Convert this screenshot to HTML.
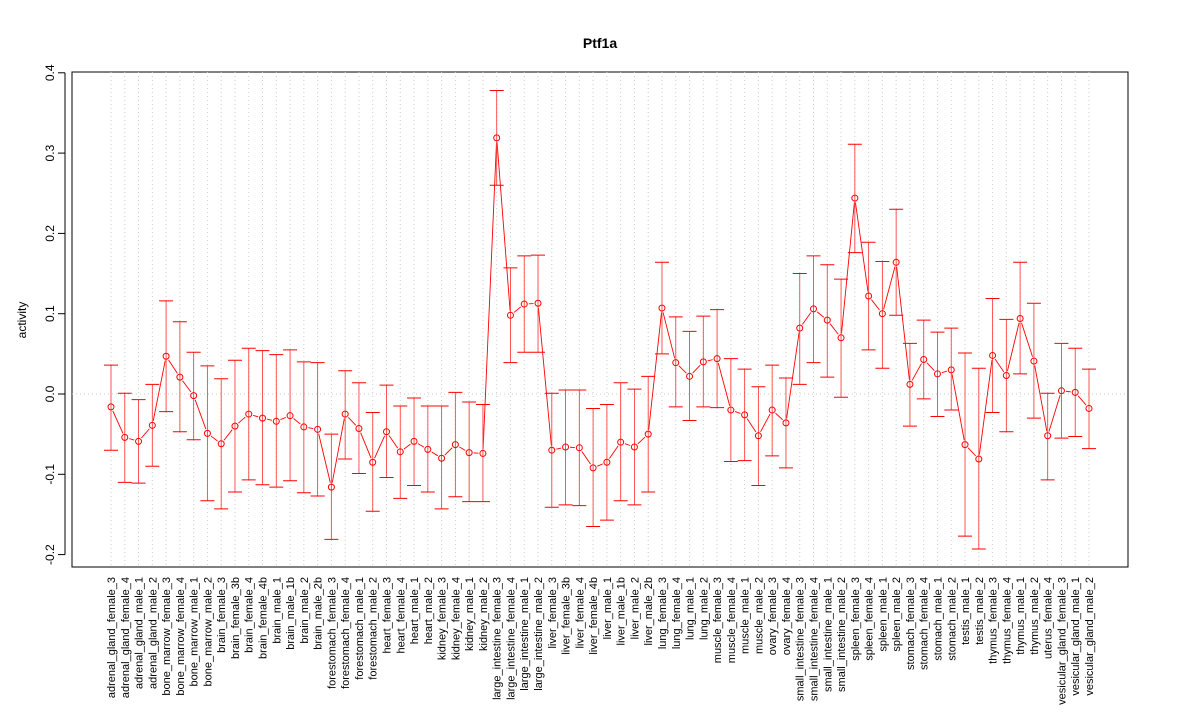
<!DOCTYPE html>
<html><head><meta charset="utf-8"><style>
html,body{margin:0;padding:0;background:#fff;}
svg{display:block;font-family:"Liberation Sans",sans-serif;}
</style></head><body>
<svg id="chart" width="1200" height="720">
<text x="600" y="48" text-anchor="middle" font-size="14" font-weight="bold">Ptf1a</text>
<text transform="translate(26,320) rotate(-90)" text-anchor="middle" font-size="12">activity</text>
<rect x="72" y="72" width="1056" height="495" fill="none" stroke="#000"/>
<g id="grid"></g><g id="yaxis"></g><g id="xaxis"></g><g id="series"></g>
</svg>
<script>
const categories=["adrenal_gland_female_3","adrenal_gland_female_4","adrenal_gland_male_1","adrenal_gland_male_2","bone_marrow_female_3","bone_marrow_female_4","bone_marrow_male_1","bone_marrow_male_2","brain_female_3","brain_female_3b","brain_female_4","brain_female_4b","brain_male_1","brain_male_1b","brain_male_2","brain_male_2b","forestomach_female_3","forestomach_female_4","forestomach_male_1","forestomach_male_2","heart_female_3","heart_female_4","heart_male_1","heart_male_2","kidney_female_3","kidney_female_4","kidney_male_1","kidney_male_2","large_intestine_female_3","large_intestine_female_4","large_intestine_male_1","large_intestine_male_2","liver_female_3","liver_female_3b","liver_female_4","liver_female_4b","liver_male_1","liver_male_1b","liver_male_2","liver_male_2b","lung_female_3","lung_female_4","lung_male_1","lung_male_2","muscle_female_3","muscle_female_4","muscle_male_1","muscle_male_2","ovary_female_3","ovary_female_4","small_intestine_female_3","small_intestine_female_4","small_intestine_male_1","small_intestine_male_2","spleen_female_3","spleen_female_4","spleen_male_1","spleen_male_2","stomach_female_3","stomach_female_4","stomach_male_1","stomach_male_2","testis_male_1","testis_male_2","thymus_female_3","thymus_female_4","thymus_male_1","thymus_male_2","uterus_female_4","vesicular_gland_female_3","vesicular_gland_male_1","vesicular_gland_male_2"];
const values=[-0.016,-0.054,-0.059,-0.039,0.047,0.021,-0.002,-0.049,-0.062,-0.040,-0.025,-0.030,-0.034,-0.027,-0.041,-0.044,-0.116,-0.025,-0.043,-0.085,-0.047,-0.072,-0.059,-0.069,-0.080,-0.063,-0.073,-0.074,0.319,0.098,0.112,0.113,-0.070,-0.066,-0.067,-0.092,-0.085,-0.060,-0.066,-0.050,0.107,0.039,0.022,0.040,0.044,-0.020,-0.026,-0.052,-0.020,-0.036,0.082,0.106,0.092,0.070,0.244,0.122,0.100,0.164,0.012,0.043,0.025,0.030,-0.063,-0.081,0.048,0.023,0.094,0.041,-0.052,0.004,0.002,-0.018];
const upper=[0.036,0.001,-0.007,0.012,0.116,0.090,0.052,0.035,0.019,0.042,0.057,0.054,0.049,0.055,0.040,0.039,-0.050,0.029,0.014,-0.023,0.011,-0.015,-0.005,-0.015,-0.015,0.002,-0.010,-0.013,0.378,0.157,0.172,0.173,0.001,0.005,0.005,-0.018,-0.013,0.014,0.006,0.022,0.164,0.096,0.078,0.097,0.105,0.044,0.031,0.009,0.036,0.020,0.150,0.172,0.161,0.143,0.311,0.189,0.165,0.230,0.063,0.092,0.077,0.082,0.051,0.032,0.119,0.093,0.164,0.113,0.001,0.063,0.057,0.031];
const lower=[-0.070,-0.110,-0.111,-0.090,-0.022,-0.047,-0.057,-0.133,-0.143,-0.122,-0.107,-0.113,-0.116,-0.108,-0.123,-0.127,-0.181,-0.081,-0.099,-0.146,-0.104,-0.130,-0.114,-0.122,-0.143,-0.128,-0.134,-0.134,0.260,0.039,0.052,0.052,-0.141,-0.138,-0.139,-0.165,-0.157,-0.133,-0.138,-0.122,0.050,-0.016,-0.033,-0.016,-0.017,-0.084,-0.083,-0.114,-0.077,-0.092,0.012,0.039,0.021,-0.004,0.176,0.055,0.032,0.098,-0.040,-0.006,-0.028,-0.020,-0.177,-0.193,-0.023,-0.047,0.025,-0.030,-0.107,-0.055,-0.053,-0.068];
const yTicks=[-0.2,-0.1,0.0,0.1,0.2,0.3,0.4];
const yTickLabels=["-0.2","-0.1","0.0","0.1","0.2","0.3","0.4"];

const NS="http://www.w3.org/2000/svg";
function X(i){return 111+i*(1089-111)/(categories.length-1);}
function Y(v){return 394-v*803;}
function mk(tag,attrs,parent){const e=document.createElementNS(NS,tag);for(const k in attrs)e.setAttribute(k,attrs[k]);document.getElementById(parent).appendChild(e);return e;}

let g=mk('line',{x1:72,x2:1128,y1:Y(0),y2:Y(0),stroke:'#ccc','stroke-dasharray':'1,3'},'grid');


categories.forEach((c,i)=>{
  const l=mk('line',{x1:X(i),x2:X(i),y1:72,y2:567,stroke:'#ccc','stroke-dasharray':'1,3'},'grid');
  
  
  const t=mk('text',{transform:`translate(${X(i)+4},577) rotate(-90)`,'text-anchor':'end','font-size':'11'},'xaxis');
  t.textContent=c;
  
  
});
const ax=mk('line',{x1:65,x2:65,y1:Y(-0.2),y2:Y(0.4),stroke:'#000'},'yaxis');


yTicks.forEach((v,k)=>{
  const tk=mk('line',{x1:58,x2:65,y1:Y(v),y2:Y(v),stroke:'#000'},'yaxis');
  
  
  const t=mk('text',{transform:`translate(54,${Y(v)}) rotate(-90)`,'text-anchor':'middle','font-size':'12'},'yaxis');
  t.textContent=yTickLabels[k];
  
  
});
for(let i=0;i<values.length-1;i++){
  const x1=X(i),y1=Y(values[i]),x2=X(i+1),y2=Y(values[i+1]);
  const d=Math.hypot(x2-x1,y2-y1);if(d<9)continue;
  const ux=(x2-x1)/d,uy=(y2-y1)/d;
  const s=mk('line',{x1:x1+ux*4.5,y1:y1+uy*4.5,x2:x2-ux*4.5,y2:y2-uy*4.5,stroke:'red','stroke-width':'0.9'},'series');
  
  
}
values.forEach((v,i)=>{
  const x=X(i);
  const e=mk('path',{d:`M${x},${Y(upper[i])}V${Y(lower[i])}`,stroke:'#f44','stroke-width':'0.9',fill:'none'},'series');
  
  
  const cp=mk('path',{d:`M${x-7},${Y(upper[i])}H${x+7}M${x-7},${Y(lower[i])}H${x+7}`,stroke:'red',fill:'none'},'series');
  
  
  const p=mk('circle',{cx:x,cy:Y(v),r:3,fill:'none',stroke:'red'},'series');
  
  
});
</script>
</body></html>
